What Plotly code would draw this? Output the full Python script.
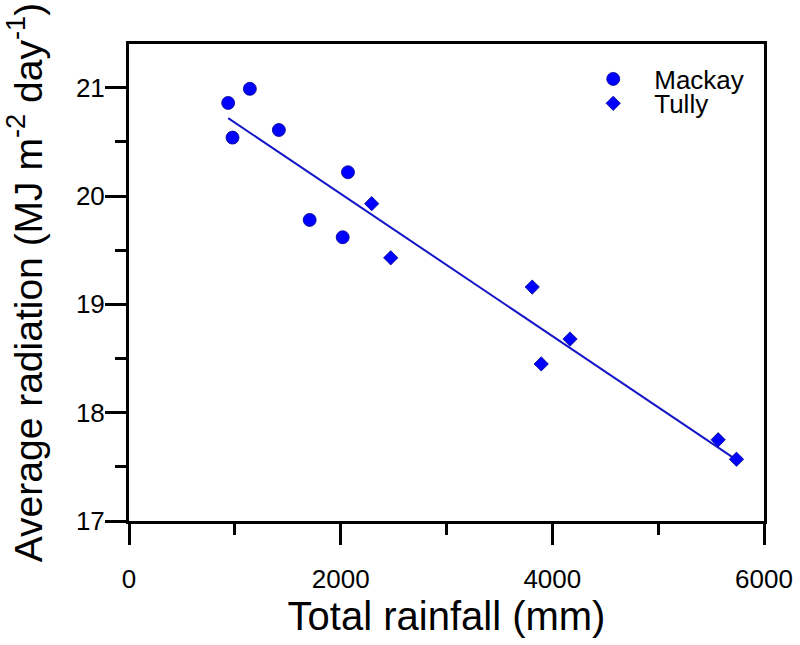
import numpy as np
import plotly.graph_objects as go

# Data
mackay_rain = [937, 1142, 978, 1416, 2069, 1707, 2019]
mackay_rad = [20.86, 20.99, 20.54, 20.61, 20.22, 19.78, 19.62]
tully_rain = [2293, 2473, 3810, 4167, 3895, 5567, 5740]
tully_rad = [19.93, 19.43, 19.16, 18.68, 18.45, 17.75, 17.57]

x_ticks = [0, 2000, 4000, 6000]
y_ticks = [17, 18, 19, 20, 21]

# Linear regression over both sites
all_x = np.array(mackay_rain + tully_rain, dtype=float)
all_y = np.array(mackay_rad + tully_rad, dtype=float)
slope, intercept = np.polyfit(all_x, all_y, 1)
fit_x = np.array([all_x.min(), all_x.max()])
fit_y = slope * fit_x + intercept

FONT = "Liberation Sans, Arial, sans-serif"
BLUE = "#0000FF"

fig = go.Figure()
fig.add_trace(go.Scatter(
    x=fit_x, y=fit_y, mode="lines",
    line=dict(color="#1515C8", width=2),
    showlegend=False, hoverinfo="skip",
))
fig.add_trace(go.Scatter(
    x=mackay_rain, y=mackay_rad, mode="markers", name="Mackay",
    marker=dict(symbol="circle", size=13, color=BLUE,
                line=dict(color="#00008B", width=0.8)),
    legend="legend",
))
fig.add_trace(go.Scatter(
    x=tully_rain, y=tully_rad, mode="markers", name="Tully",
    marker=dict(symbol="diamond", size=11, color=BLUE,
                line=dict(color="#00008B", width=0.8)),
    legend="legend2",
))

axis_common = dict(
    showline=True, linecolor="black", linewidth=3, mirror=True,
    ticks="outside", ticklen=21, tickwidth=3, tickcolor="black",
    showgrid=False, zeroline=False, automargin=False,
    tickfont=dict(family=FONT, size=26, color="black"),
)

fig.update_layout(
    width=800, height=645,
    margin=dict(l=129, r=36, t=44, b=124),
    paper_bgcolor="white", plot_bgcolor="white",
    font=dict(family=FONT, color="black"),
    xaxis=dict(
        axis_common,
        range=[0, 6000], tickvals=x_ticks,
        ticktext=[str(v) for v in x_ticks],
        minor=dict(ticks="outside", ticklen=11, tickwidth=3,
                   tickcolor="black", dtick=1000, tick0=0),
        ticklabelstandoff=12,
        title=dict(text="Total rainfall (mm)",
                   font=dict(family=FONT, size=40, color="black"),
                   standoff=8),
    ),
    yaxis=dict(
        axis_common,
        range=[17, 21.404], tickvals=y_ticks,
        ticktext=[str(v) for v in y_ticks],
        minor=dict(ticks="outside", ticklen=11, tickwidth=3,
                   tickcolor="black", dtick=0.5, tick0=17),
        ticklabelstandoff=-5,
        title=dict(text="Average radiation (MJ m<sup>-2</sup> day<sup>-1</sup>)",
                   font=dict(family=FONT, size=39, color="black"),
                   standoff=22),
    ),
    legend=dict(x=0.698, y=0.9266, xanchor="left", yanchor="middle",
                itemwidth=72, bgcolor="rgba(0,0,0,0)",
                font=dict(family=FONT, size=26, color="black")),
    legend2=dict(x=0.698, y=0.8755, xanchor="left", yanchor="middle",
                 itemwidth=72, bgcolor="rgba(0,0,0,0)",
                 font=dict(family=FONT, size=26, color="black")),
)

fig.write_html(
    "out.html",
    config={"displayModeBar": False},
    post_script="document.body.style.margin='0';document.body.style.overflow='hidden';",
)
